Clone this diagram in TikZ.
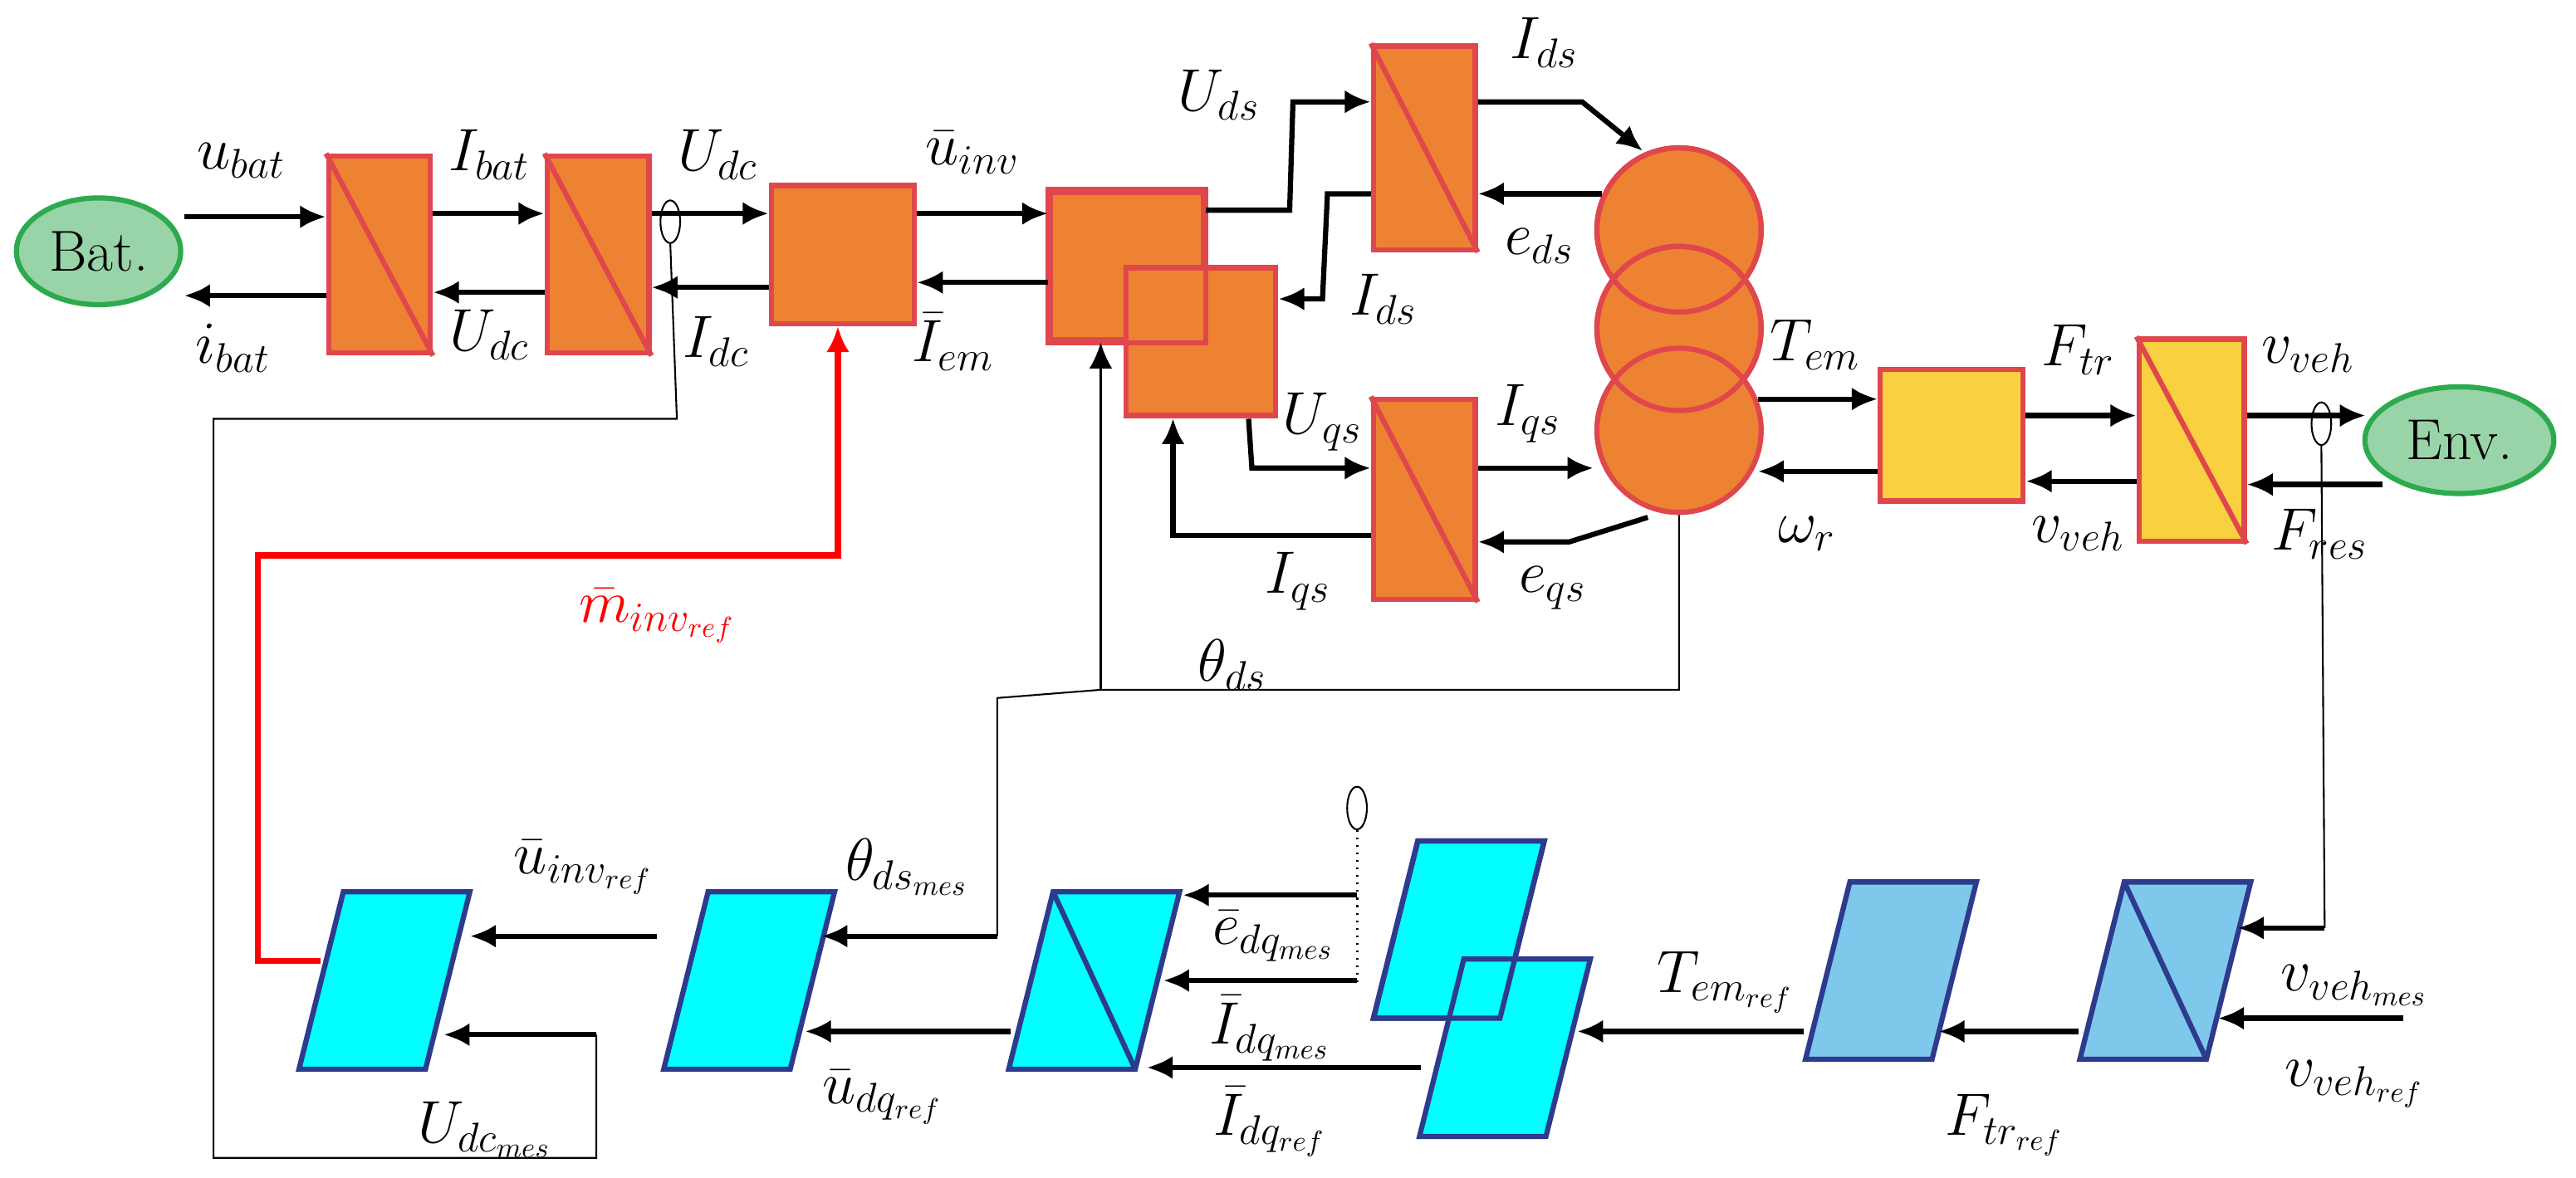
\documentclass[tikz,border=0pt]{standalone}
\usetikzlibrary{arrows.meta,shapes.geometric}
\definecolor{org}{HTML}{ED8232}
\definecolor{redb}{HTML}{E0474C}
\definecolor{yel}{HTML}{F8D040}
\definecolor{grn}{HTML}{98D4A8}
\definecolor{grnb}{HTML}{2EAA4E}
\definecolor{cyn}{HTML}{00FFFF}
\definecolor{lbl}{HTML}{7EC8EC}
\definecolor{navy}{HTML}{2E3A8C}
\begin{document}
\begin{tikzpicture}[x=0.02cm,y=-0.02cm,
  every node/.style={font=\fontsize{20}{24}\selectfont},
  blk/.style={draw=redb,line width=1.8pt,fill=org,rectangle,inner sep=0},
  src/.style={draw=grnb,line width=1.8pt,fill=grn,ellipse,minimum width=2cm,minimum height=1.3cm,inner sep=0},
  ar/.style={line width=1.8pt,-{Latex[length=9pt,width=8pt]}},
  thin/.style={line width=0.6pt},
  sens/.style={draw,thin,ellipse,minimum width=0.24cm,minimum height=0.52cm,inner sep=0},
  lab/.style={inner sep=1pt}]
\useasboundingbox (0,0) rectangle (1568,717);
\fill[white] (0,0) rectangle (1568,717);
% top sources
\node[src] (bat) at (60,153) {Bat.};
\node[src,minimum width=2.3cm] (env) at (1497,268) {Env.};
% orange blocks
\node[blk,minimum width=1.24cm,minimum height=2.4cm] (c1) at (231,155) {};
\draw[redb,line width=1.8pt] (c1.north west) -- (c1.south east);
\node[blk,minimum width=1.24cm,minimum height=2.4cm] (c2) at (364,155) {};
\draw[redb,line width=1.8pt] (c2.north west) -- (c2.south east);
\node[blk,minimum width=1.74cm,minimum height=1.68cm] (inv) at (513,155) {};
\node[blk,minimum width=1.86cm,minimum height=1.8cm] (k1) at (686,162) {};
\node[blk,minimum width=1.82cm,minimum height=1.8cm] (k2) at (731,208) {};
\draw[redb,line width=1.8pt] (k1.north west) rectangle (k1.south east);
\node[blk,minimum width=1.24cm,minimum height=2.48cm] (cd) at (867,90) {};
\draw[redb,line width=1.8pt] (cd.north west) -- (cd.south east);
\node[blk,minimum width=1.24cm,minimum height=2.44cm] (cq) at (867,304) {};
\draw[redb,line width=1.8pt] (cq.north west) -- (cq.south east);
\node[blk,circle,minimum size=2cm] (m1) at (1022,140) {};
\node[blk,circle,minimum size=2cm] (m2) at (1022,200) {};
\node[blk,circle,minimum size=2cm] (m3) at (1022,262) {};
\draw[redb,line width=1.8pt] (m1) circle (50) (m2) circle (50);
\node[blk,fill=yel,minimum width=1.74cm,minimum height=1.6cm] (tr) at (1188,265) {};
\node[blk,fill=yel,minimum width=1.28cm,minimum height=2.46cm] (wh) at (1334,268) {};
\draw[redb,line width=1.8pt] (wh.north west) -- (wh.south east);
% top arrows
\draw[ar] (112,132) -- (c1.west|-0,132);
\draw[ar] (c1.west|-0,180) -- (112,180);
\draw[ar] (c1.east|-0,130) -- (c2.west|-0,130);
\draw[ar] (c2.west|-0,178) -- (c1.east|-0,178);
\draw[ar] (c2.east|-0,130) -- (inv.west|-0,130);
\draw[ar] (inv.west|-0,175) -- (c2.east|-0,175);
\draw[ar] (inv.east|-0,130) -- (k1.west|-0,130);
\draw[ar] (k1.west|-0,172) -- (inv.east|-0,172);
\draw[ar] (k1.east|-0,128) -- (785,128) -- (787,62) -- (cd.west|-0,62);
\draw[ar] (cd.west|-0,118) -- (808,118) -- (805,182) -- (k2.east|-0,182);
\draw[ar] (760,255) -- (762,285) -- (cq.west|-0,285);
\draw[ar] (cq.west|-0,326) -- (714,326) -- (k2.south-|714,0);
\draw[ar] (cd.east|-0,62) -- (963,62) -- (1000,92);
\draw[ar] (975,118) -- (cd.east|-0,118);
\draw[ar] (cq.east|-0,285) -- (970,285);
\draw[ar] (1003,315) -- (955,330) -- (cq.east|-0,330);
\draw[ar] (1070,243) -- (tr.west|-0,243);
\draw[ar] (tr.west|-0,287) -- (1070,287);
\draw[ar] (tr.east|-0,253) -- (wh.west|-0,253);
\draw[ar] (wh.west|-0,293) -- (tr.east|-0,293);
\draw[ar] (wh.east|-0,253) -- (1440,253);
\draw[ar] (1450,295) -- (wh.east|-0,295);
% sensors
\node[sens] (s1) at (408,135) {};
\node[sens] (s2) at (1413,258) {};
\node[sens] (s3) at (826,492) {};
% parallelograms
\newcommand{\pgm}[4]{% cx cy fill name
  \draw[navy,line width=1.8pt,fill=#3] (#1-11,#2-54) -- (#1+66,#2-54) -- (#1+39,#2+54) -- (#1-38,#2+54) -- cycle;
  \coordinate (#4) at (#1+14,#2);}
\pgm{220}{597}{cyn}{b1}
\pgm{442}{597}{cyn}{b2}
\pgm{652}{597}{cyn}{b3}
\draw[navy,line width=1.8pt] (641,543) -- (691,651);
\pgm{874}{566}{cyn}{b4}
\pgm{902}{638}{cyn}{b5}
\draw[navy,line width=1.8pt] (863,512) -- (940,512) -- (913,620) -- (836,620) -- cycle;
\pgm{1137}{591}{lbl}{b6}
\pgm{1304}{591}{lbl}{b7}
\draw[navy,line width=1.8pt] (1293,537) -- (1343,645);
% bottom arrows
\draw[ar] (400,570) -- (286,570);
\draw[ar] (363,630) -- (270,630);
\draw[ar] (607,570) -- (500,570);
\draw[ar] (826,545) -- (720,545);
\draw[ar] (826,597) -- (708,597);
\draw[ar] (615,628) -- (490,628);
\draw[ar] (865,650) -- (698,650);
\draw[ar] (1098,628) -- (960,628);
\draw[ar] (1265,628) -- (1180,628);
\draw[ar] (1415,565) -- (1362,565);
\draw[ar] (1463,620) -- (1350,620);
% thin lines
\draw[thin] (s1.south) -- (412,255) -- (130,255) -- (130,705) -- (363,705) -- (363,630);
\draw[thin] (s2.south) -- (1415,565);
\draw[thin,dotted,line width=0.9pt] (s3.south) -- (826,598);
\draw[thin] (m3.south) -- (1022,420) -- (670,420) -- (607,425) -- (607,570);
\draw[ar,line width=0.8pt] (670,420) -- (k1.south-|670,0);
% red
\draw[ar,red,line width=2.2pt] (195,585) -- (157,585) -- (157,338) -- (510,338) -- (inv.south-|510,0);
% labels
\node[lab] at (147,98) {$u_{bat}$};
\node[lab] at (142,212) {$i_{bat}$};
\node[lab] at (298,94) {$I_{bat}$};
\node[lab] at (298,204) {$U_{dc}$};
\node[lab] at (437,94) {$U_{dc}$};
\node[lab] at (436,208) {$I_{dc}$};
\node[lab] at (592,93) {$\bar{u}_{inv}$};
\node[lab] at (580,208) {$\bar{I}_{em}$};
\node[lab] at (742,58) {$U_{ds}$};
\node[lab] at (842,182) {$I_{ds}$};
\node[lab] at (940,26) {$I_{ds}$};
\node[lab] at (937,150) {$e_{ds}$};
\node[lab] at (805,257) {$U_{qs}$};
\node[lab] at (930,252) {$I_{qs}$};
\node[lab] at (790,354) {$I_{qs}$};
\node[lab] at (945,358) {$e_{qs}$};
\node[lab] at (1105,210) {$T_{em}$};
\node[lab] at (1100,325) {$\omega_r$};
\node[lab] at (1265,213) {$F_{tr}$};
\node[lab] at (1265,325) {$v_{veh}$};
\node[lab] at (1405,216) {$v_{veh}$};
\node[lab] at (1412,325) {$F_{res}$};
\node[lab,red] at (400,375) {$\bar{m}_{inv_{ref}}$};
\node[lab] at (750,405) {$\theta_{ds}$};
\node[lab] at (355,528) {$\bar{u}_{inv_{ref}}$};
\node[lab] at (295,688) {$U_{dc_{mes}}$};
\node[lab] at (552,528) {$\theta_{ds_{mes}}$};
\node[lab] at (775,570) {$\bar{e}_{dq_{mes}}$};
\node[lab] at (773,626) {$\bar{I}_{dq_{mes}}$};
\node[lab] at (537,668) {$\bar{u}_{dq_{ref}}$};
\node[lab] at (773,683) {$\bar{I}_{dq_{ref}}$};
\node[lab] at (1050,598) {$T_{em_{ref}}$};
\node[lab] at (1220,685) {$F_{tr_{ref}}$};
\node[lab] at (1433,600) {$v_{veh_{mes}}$};
\node[lab] at (1433,660) {$v_{veh_{ref}}$};
\end{tikzpicture}
\end{document}
